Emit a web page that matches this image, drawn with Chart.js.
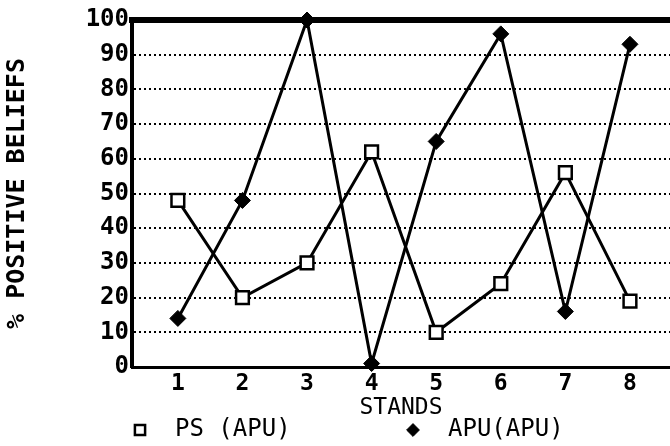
<!DOCTYPE html>
<html>
<head>
<meta charset="utf-8">
<script src="https://cdn.jsdelivr.net/npm/chart.js@4.4.0/dist/chart.umd.min.js"></script>
<style>
  html, body { margin: 0; background: #fff; }
  #wrap { width: 670px; height: 446px; }
</style>
</head>
<body>
<div id="wrap"><canvas id="chart"></canvas></div>
<script>
const stands = [1, 2, 3, 4, 5, 6, 7, 8];
const psValues = [48, 20, 30, 62, 10, 24, 56, 19];
const apuValues = [14, 48, 100, 1, 65, 96, 16, 93];
const yTicks = [0, 10, 20, 30, 40, 50, 60, 70, 80, 90, 100];

const mono = 'DejaVu Sans Mono';

// legend drawn under the axis title, like the original printout
const bottomKey = {
    id: 'bottomKey',
    afterDraw(chart) {
        const ctx = chart.ctx;
        const spots = [140, 413];
        const y = 430;
        chart.data.datasets.forEach((ds, i) => {
            ctx.save();
            ctx.fillStyle = ds.pointBackgroundColor;
            ctx.strokeStyle = ds.pointBorderColor;
            ctx.lineWidth = ds.pointBorderWidth;
            Chart.helpers.drawPoint(ctx, {
                pointStyle: ds.pointStyle,
                radius: ds.pointRadius * 0.8,
                rotation: 0,
                borderWidth: ds.pointBorderWidth
            }, spots[i], y);
            ctx.fillStyle = '#000';
            ctx.font = '24px "' + mono + '"';
            ctx.textBaseline = 'middle';
            ctx.fillText(ds.label, spots[i] + 35, y);
            ctx.restore();
        });
    }
};

const ctx = document.getElementById('chart');

new Chart(ctx, {
    type: 'line',
    data: {
        datasets: [{
            label: 'PS (APU)',
            data: stands.map((s, i) => ({x: s, y: psValues[i]})),
            borderColor: '#000',
            borderWidth: 3,
            pointStyle: 'rect',
            pointRadius: 9,
            pointBackgroundColor: '#fff',
            pointBorderColor: '#000',
            pointBorderWidth: 2.5,
            tension: 0,
            clip: false
        }, {
            label: 'APU(APU)',
            data: stands.map((s, i) => ({x: s, y: apuValues[i]})),
            borderColor: '#000',
            borderWidth: 3,
            pointStyle: 'rectRot',
            pointRadius: 8,
            pointBackgroundColor: '#000',
            pointBorderColor: '#000',
            pointBorderWidth: 1,
            tension: 0,
            clip: false
        }]
    },
    options: {
        responsive: true,
        maintainAspectRatio: false,
        animation: false,
        layout: {
            autoPadding: false,
            padding: {top: 20, right: 0, bottom: 24, left: 0}
        },
        scales: {
            x: {
                type: 'linear',
                min: 0.29,
                max: 8.62,
                afterBuildTicks: s => { s.ticks = stands.map(v => ({value: v})); },
                afterFit: s => { s.height = 55; },
                ticks: {
                    font: {family: mono, size: 23, weight: 'bold'},
                    color: '#000',
                    padding: 3,
                    autoSkip: false,
                    maxRotation: 0
                },
                grid: {display: false, drawTicks: false},
                border: {display: true, color: '#000', width: 3},
                title: {
                    display: true,
                    text: 'STANDS',
                    font: {family: mono, size: 23},
                    color: '#000',
                    padding: {top: 0, bottom: 0}
                }
            },
            xTop: {
                type: 'linear',
                position: 'top',
                min: 0.29,
                max: 8.62,
                afterFit: s => { s.height = 0; },
                ticks: {display: false},
                grid: {display: false, drawTicks: false},
                border: {display: true, color: '#000', width: 6}
            },
            y: {
                min: 0,
                max: 100,
                afterBuildTicks: s => { s.ticks = yTicks.map(v => ({value: v})); },
                afterFit: s => { s.width = 132; },
                ticks: {
                    font: {family: mono, size: 24, weight: 'bold'},
                    color: '#000',
                    padding: 3
                },
                grid: {
                    drawTicks: false,
                    color: c => (c.tick.value === 0 || c.tick.value === 100) ? 'rgba(0,0,0,0)' : '#000',
                    lineWidth: 2
                },
                border: {display: true, color: '#000', width: 4, dash: [2, 3]},
                title: {
                    display: true,
                    text: '% POSITIVE BELIEFS',
                    font: {family: mono, size: 25, weight: 'bold'},
                    color: '#000',
                    padding: {top: 2, bottom: 0}
                }
            }
        },
        plugins: {
            legend: {display: false},
            tooltip: {enabled: false}
        }
    },
    plugins: [bottomKey]
});
</script>
</body>
</html>
